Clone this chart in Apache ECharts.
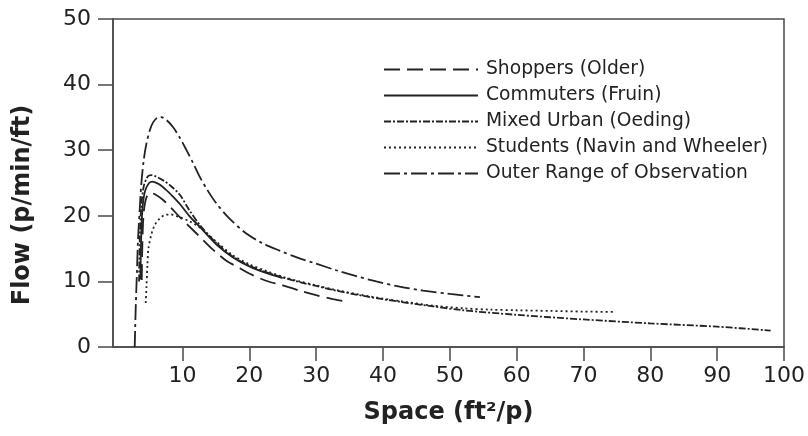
<!DOCTYPE html>
<html>
<head>
<meta charset="utf-8">
<script src="https://cdn.jsdelivr.net/npm/echarts@6/dist/echarts.min.js"></script>
<style>html,body{margin:0;padding:0;background:#fff}#c{width:808px;height:436px}</style>
</head>
<body>
<div id="c"></div>
<script>
// ---- data ----
const seriesNames = ['Shoppers (Older)', 'Commuters (Fruin)', 'Mixed Urban (Oeding)', 'Students (Navin and Wheeler)', 'Outer Range of Observation'];
const xTickValues = [10, 20, 30, 40, 50, 60, 70, 80, 90, 100];

const shoppersX = [3.9, 4.0, 4.2, 4.6, 5.2, 6.0, 7.1, 8.3, 9.6, 12.1, 14.6, 16.5, 18.6, 20, 22.5, 25, 27.5, 30, 32.5, 34.5];
const shoppersY = [10.2, 16, 20.5, 22.8, 23.5, 23.2, 22.4, 21.2, 19.8, 17.3, 14.8, 13.2, 12.0, 11.2, 10.1, 9.4, 8.6, 7.9, 7.3, 6.9];

const commutersX = [3.7, 3.8, 4.0, 4.4, 5.0, 5.5, 6.5, 7.5, 8.5, 9.6, 11, 12.6, 15, 17.5, 20, 22.5, 25];
const commutersY = [10.3, 16, 21, 23.8, 25, 25.2, 24.8, 24, 23, 21.8, 20, 18.3, 15.7, 13.7, 12.3, 11.3, 10.5];

const mixedX = [3.5, 3.6, 3.8, 4.2, 4.8, 5.3, 6.0, 7.1, 8.3, 9.6, 11, 12.6, 15, 17.5, 20, 22.5, 25, 27.5, 30, 32.5, 37.5, 42.5, 47.5, 52, 60, 70, 80, 90, 98];
const mixedY = [10, 16, 21, 24.5, 26, 26.2, 26, 25.4, 24.5, 23.2, 20.9, 18.6, 15.9, 13.8, 12.4, 11.4, 10.6, 9.9, 9.3, 8.7, 7.7, 6.9, 6.2, 5.6, 4.9, 4.2, 3.6, 3.1, 2.5];

const studentsX = [4.5, 4.6, 4.75, 4.9, 5.3, 5.8, 6.5, 7.3, 8.3, 9.5, 11, 12.6, 15, 17.5, 20, 22.5, 25, 27.5, 30, 32.5, 37.5, 42.5, 47.5, 52, 56, 60, 65, 70, 74.4];
const studentsY = [6.7, 9, 12.5, 15, 17, 18.5, 19.5, 20.1, 20.2, 19.8, 19.2, 18.2, 16.1, 14.0, 12.6, 11.6, 10.7, 10.0, 9.4, 8.8, 7.8, 7.0, 6.3, 5.9, 5.7, 5.6, 5.5, 5.4, 5.35];

const outerX = [2.85, 3.0, 3.2, 3.34, 3.6, 3.84, 4.2, 4.6, 5.1, 5.58, 6.3, 6.8, 7.6, 8.6, 9.6, 10.6, 11.6, 12.6, 13.8, 15.06, 17, 19.55, 22, 24.5, 27, 30, 33, 36, 39, 42.5, 46, 50, 54.5];
const outerY = [0, 6, 12, 16.3, 21, 24.9, 28.5, 31, 33, 34.2, 35, 35.05, 34.6, 33.5, 31.9, 30.0, 28, 25.9, 23.8, 21.9, 19.6, 17.3, 15.8, 14.7, 13.7, 12.7, 11.7, 10.8, 10.0, 9.2, 8.6, 8.1, 7.6];

// ---- chart ----
const pairs = (xs, ys) => xs.map((x, i) => [x, ys[i]]);
const ink = '#222';
const axisInk = '#4a4a4a';
const font = 'DejaVu Sans';
const dashes = [[16, 7], 'solid', [7, 2, 2, 2], [2, 3], [16, 4, 3, 4]];
const sets = [
  pairs(shoppersX, shoppersY),
  pairs(commutersX, commutersY),
  pairs(mixedX, mixedY),
  pairs(studentsX, studentsY),
  pairs(outerX, outerY)
];

const chart = echarts.init(document.getElementById('c'), null, {renderer: 'canvas'});
chart.setOption({
  animation: false,
  backgroundColor: '#fff',
  textStyle: {fontFamily: font, color: ink},
  grid: {left: 113, right: 24, top: 19, bottom: 89, show: true, borderColor: axisInk, borderWidth: 1.5, backgroundColor: 'transparent'},
  legend: {
    orient: 'vertical', left: 383, top: 60, padding: 0,
    itemWidth: 94, itemHeight: 12, itemGap: 7,
    itemStyle: {color: 'transparent', borderWidth: 0, opacity: 0},
    textStyle: {fontFamily: font, fontSize: 18.7, color: ink, padding: [0, 0, 0, 3]},
    data: seriesNames
  },
  xAxis: {
    type: 'value', min: -0.4, max: 100,
    splitLine: {show: false},
    axisLine: {onZero: false, lineStyle: {color: axisInk, width: 1.5}},
    axisTick: {show: true, length: 14, lineStyle: {color: axisInk, width: 1.5}, customValues: xTickValues},
    axisLabel: {fontFamily: font, fontSize: 22, color: ink, margin: 18, customValues: xTickValues},
    name: 'Space (ft²/p)', nameLocation: 'middle', nameGap: 54,
    nameTextStyle: {fontFamily: font, fontSize: 24, fontWeight: 'bold', color: ink}
  },
  yAxis: {
    type: 'value', min: 0, max: 50, interval: 10,
    splitLine: {show: false},
    axisLine: {show: true, onZero: false, lineStyle: {color: axisInk, width: 1.5}},
    axisTick: {show: true, length: 15, lineStyle: {color: axisInk, width: 1.5}},
    axisLabel: {fontFamily: font, fontSize: 22, color: ink, margin: 22},
    name: 'Flow (p/min/ft)', nameLocation: 'middle', nameGap: 78,
    nameTextStyle: {fontFamily: font, fontSize: 24, fontWeight: 'bold', color: ink, padding: [0, 44, 0, 0]}
  },
  series: seriesNames.map((n, i) => ({
    name: n, type: 'line', data: sets[i], symbol: 'none', smooth: 0.3,
    lineStyle: {color: ink, width: 1.8, type: dashes[i]},
    itemStyle: {color: ink}
  }))
});
</script>
</body>
</html>
